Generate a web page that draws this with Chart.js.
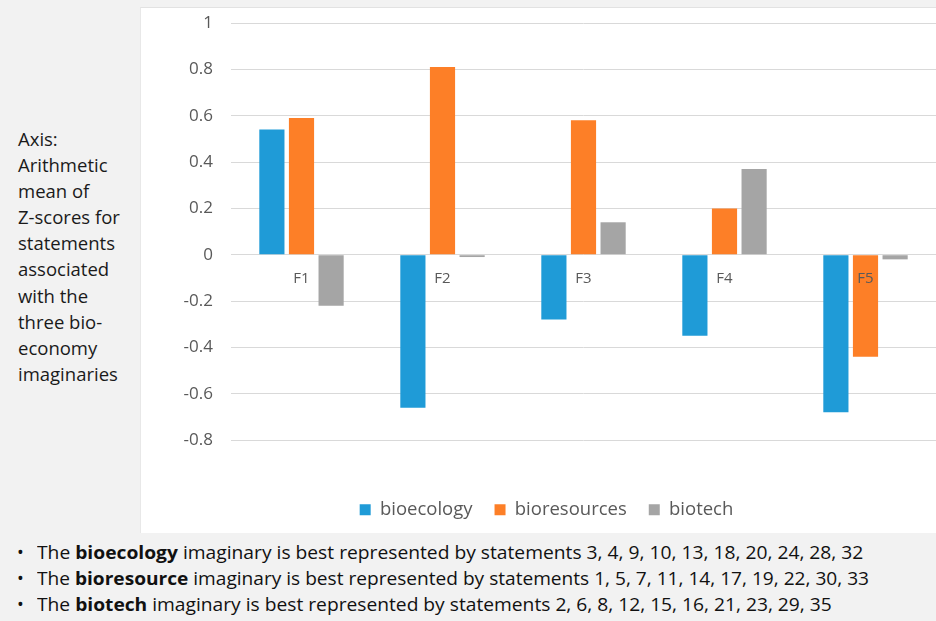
<!DOCTYPE html>
<html>
<head>
<meta charset="utf-8">
<script src="https://cdn.jsdelivr.net/npm/chart.js@4.4.1/dist/chart.umd.min.js"></script>
<style>
  html, body { margin: 0; padding: 0; }
  body { width: 936px; height: 621px; background: #f2f2f2; position: relative; overflow: hidden; font-family: "Open Sans", sans-serif; }
  #panel { position: absolute; left: 140px; top: 7px; width: 796px; height: 526px; background: #fff; border-top: 1px solid #e2e2e2; border-left: 1px solid #e8e8e8; box-sizing: border-box; }
  #axisNote { position: absolute; left: 18px; top: 126px; font-size: 18.5px; line-height: 26.1px; color: #1a1a1a; }
  #notes { position: absolute; left: 0; top: 539px; font-size: 18px; color: #111; }
  #notes div { position: absolute; white-space: nowrap; height: 26px; line-height: 26px; }
  #notes .bul { left: 17px; }
  #notes .txt { left: 37px; transform-origin: 0 50%; }
</style>
</head>
<body>
<div id="axisNote">Axis:<br>Arithmetic<br>mean of<br>Z-scores for<br>statements<br>associated<br>with the<br>three bio-<br>economy<br>imaginaries</div>
<div id="panel"><canvas id="myChart"></canvas></div>
<div id="notes"></div>
<script>
// Chart values
const factors = ['F1', 'F2', 'F3', 'F4', 'F5'];
const bioecology = [0.54, -0.66, -0.28, -0.35, -0.68];
const bioresources = [0.59, 0.81, 0.58, 0.20, -0.44];
const biotech = [-0.22, -0.01, 0.14, 0.37, -0.02];
const yTicks = [1, 0.8, 0.6, 0.4, 0.2, 0, -0.2, -0.4, -0.6, -0.8];

const notes = [
    ['bioecology', '3, 4, 9, 10, 13, 18, 20, 24, 28, 32'],
    ['bioresource', '1, 5, 7, 11, 14, 17, 19, 22, 30, 33'],
    ['biotech', '2, 6, 8, 12, 15, 16, 21, 23, 29, 35']
];
const noteWidths = [826, 832, 795];

document.addEventListener('DOMContentLoaded', function () {
    // bullet notes under the chart
    const box = document.getElementById('notes');
    notes.forEach((n, i) => {
        const b = document.createElement('div');
        b.className = 'bul';
        b.style.top = (i * 26) + 'px';
        b.textContent = '\u2022';
        box.appendChild(b);
        const t = document.createElement('div');
        t.className = 'txt';
        t.style.top = (i * 26) + 'px';
        t.innerHTML = 'The <b>' + n[0] + '</b> imaginary is best represented by statements ' + n[1];
        box.appendChild(t);
        t.style.transform = 'scaleX(' + (noteWidths[i] / t.offsetWidth) + ')';
    });

    const ctx = document.getElementById('myChart').getContext('2d');
    const data = {
        labels: factors,
        datasets: [
            { label: 'bioecology', data: bioecology, backgroundColor: '#1f9bd7' },
            { label: 'bioresources', data: bioresources, backgroundColor: '#fd7f27' },
            { label: 'biotech', data: biotech, backgroundColor: '#a5a5a5' }
        ]
    };

    const config = {
        type: 'bar',
        data: data,
        options: {
            responsive: false,
            animation: false,
            categoryPercentage: 0.63,
            barPercentage: 0.85,
            layout: { padding: { top: 15, right: 0, bottom: 4, left: 16 } },
            plugins: {
                tooltip: { enabled: false },
                legend: {
                    position: 'bottom',
                    title: { display: true, text: ' ', padding: 12 },
                    labels: {
                        boxWidth: 11,
                        boxHeight: 11,
                        padding: 22,
                        color: '#595959',
                        font: { family: 'Open Sans', size: 18.5 }
                    }
                }
            },
            scales: {
                x: {
                    position: { y: 0 },
                    z: 1,
                    grid: { display: false, drawTicks: false },
                    border: { display: false },
                    ticks: { z: 1, color: '#595959', padding: 15, font: { family: 'Open Sans', size: 15 } }
                },
                y: {
                    min: -0.8,
                    max: 1,
                    afterFit: function (scale) { scale.width = 74; },
                    afterBuildTicks: function (scale) { scale.ticks = yTicks.map(v => ({ value: v })); },
                    grid: { color: '#d9d9d9', drawTicks: true, tickLength: 16, tickColor: 'rgba(0,0,0,0)' },
                    border: { display: false },
                    ticks: {
                        color: '#595959',
                        padding: 2,
                        font: { family: 'Open Sans', size: 17 },
                        callback: v => String(Math.round(v * 10) / 10)
                    }
                }
            }
        }
    };

    const canvas = document.getElementById('myChart');
    canvas.width = 795;
    canvas.height = 525;
    canvas.style.width = '795px';
    canvas.style.height = '525px';
    const myChart = new Chart(ctx, config);
});
</script>
</body>
</html>
